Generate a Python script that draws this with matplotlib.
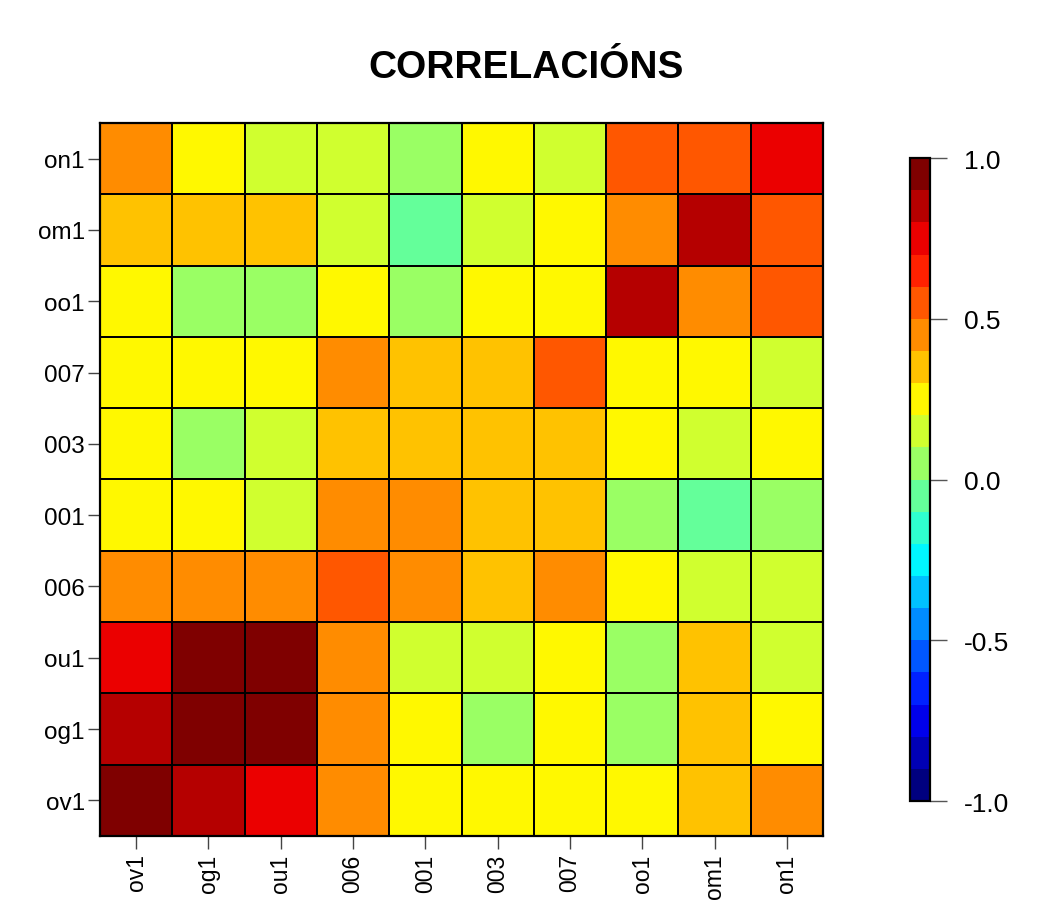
import numpy as np
import matplotlib.pyplot as plt
from matplotlib.colors import LinearSegmentedColormap

plt.rcParams['font.family'] = ['Liberation Sans', 'DejaVu Sans']

labels = ['ov1', 'og1', 'ou1', '006', '001', '003', '007', 'oo1', 'om1', 'on1']

# rows from bottom (ov1) to top (on1), columns in the same order as labels
row_ov1 = [0.96, 0.86, 0.76, 0.44, 0.26, 0.24, 0.27, 0.23, 0.36, 0.43]
row_og1 = [0.84, 0.95, 0.94, 0.45, 0.27, 0.06, 0.25, 0.07, 0.34, 0.26]
row_ou1 = [0.74, 0.93, 0.96, 0.43, 0.16, 0.14, 0.22, 0.04, 0.33, 0.13]
row_006 = [0.46, 0.44, 0.42, 0.56, 0.45, 0.36, 0.41, 0.24, 0.16, 0.15]
row_001 = [0.24, 0.26, 0.17, 0.44, 0.43, 0.35, 0.37, 0.06, -0.04, 0.05]
row_003 = [0.25, 0.04, 0.15, 0.36, 0.34, 0.38, 0.35, 0.22, 0.14, 0.24]
row_007 = [0.27, 0.23, 0.26, 0.45, 0.36, 0.33, 0.57, 0.24, 0.26, 0.13]
row_oo1 = [0.22, 0.05, 0.06, 0.23, 0.07, 0.26, 0.24, 0.85, 0.44, 0.55]
row_om1 = [0.34, 0.33, 0.36, 0.14, -0.06, 0.15, 0.27, 0.46, 0.86, 0.54]
row_on1 = [0.43, 0.24, 0.16, 0.15, 0.03, 0.23, 0.14, 0.56, 0.53, 0.77]

corr = np.array([row_ov1, row_og1, row_ou1, row_006, row_001,
                 row_003, row_007, row_oo1, row_om1, row_on1])

# matlab-like jet ramp, 20 discrete colours
jet_anchors = ['#00007F', '#0000FF', '#007FFF', '#00FFFF', '#7FFF7F',
               '#FFFF00', '#FF7F00', '#FF0000', '#7F0000']
cmap = LinearSegmentedColormap.from_list('jet20', jet_anchors, N=20)

fig = plt.figure(figsize=(10.53, 9.03), dpi=100)
ax = fig.add_axes([0.095, 0.0731, 0.6866, 0.7896])

n = len(labels)
mesh = ax.pcolormesh(np.arange(n + 1), np.arange(n + 1), corr, cmap=cmap,
                     vmin=-1, vmax=1, edgecolors='black', linewidth=1.4)
ax.set_xlim(0, n)
ax.set_ylim(0, n)
ax.set_xticks(np.arange(n) + 0.5)
ax.set_yticks(np.arange(n) + 0.5)
ax.set_xticklabels(labels, rotation=90, fontsize=16.5)
ax.set_yticklabels(labels, fontsize=17.5)
ax.tick_params(axis='x', length=9.5, width=1, color='#444444', pad=3)
ax.tick_params(axis='y', length=9, width=1, color='#444444', pad=2)
for s in ax.spines.values():
    s.set_linewidth(1.6)

fig.text(0.5, 0.925, 'CORRELACIÓNS', ha='center', va='center',
         fontsize=28, fontweight='bold')

cax = fig.add_axes([0.8642, 0.1118, 0.019, 0.712])
cb = fig.colorbar(mesh, cax=cax)
cb.set_ticks([-1.0, -0.5, 0.0, 0.5, 1.0])
cb.set_ticklabels(['-1.0', '-0.5', '0.0', '0.5', '1.0'])
cb.ax.tick_params(length=12.5, width=1, color='#555555', labelsize=19, pad=12)
cb.outline.set_linewidth(1.6)

fig.savefig('out.png', dpi=100)
